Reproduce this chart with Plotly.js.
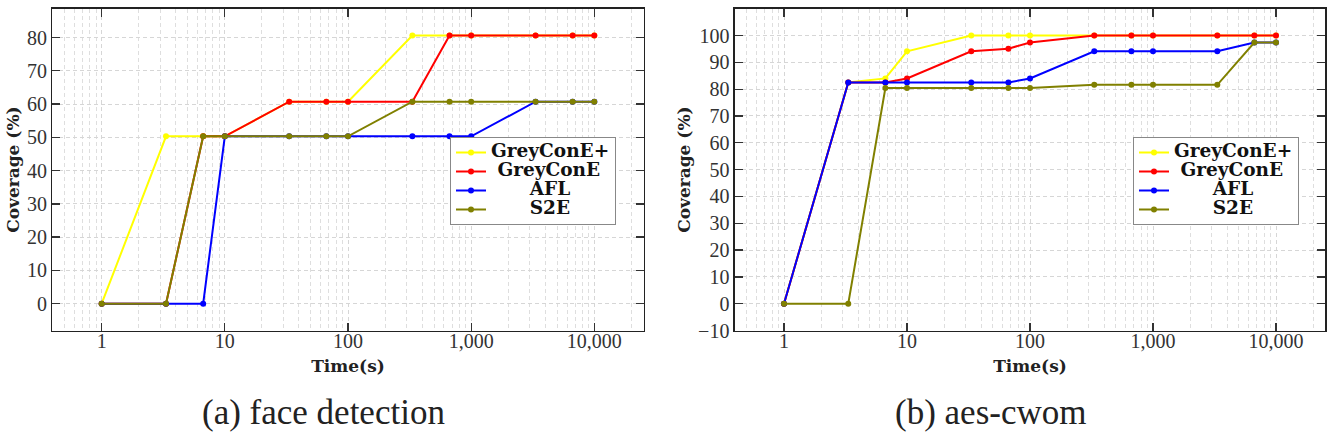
<!DOCTYPE html>
<html><head><meta charset="utf-8">
<script src="https://cdn.plot.ly/plotly-3.0.1.min.js"></script>
<style>html,body{margin:0;padding:0;background:#fff}</style>
</head><body><div id="chart" style="width:1328px;height:434px"></div>
<script>
// ---------------- data ----------------
const times = [1, 3.33, 6.67, 10, 33.3, 66.7, 100, 333, 667, 1000, 3333, 6667, 10000];
const seriesNames = ['GreyConE+', 'GreyConE', 'AFL', 'S2E'];
const seriesColors = ['#ffff00', '#ff0000', '#0000ff', '#808000'];

// (a) face detection
const faceGreyConEPlus = [0, 50.3, 50.3, 50.3, 60.7, 60.7, 60.7, 80.6, 80.6, 80.6, 80.6, 80.6, 80.6];
const faceGreyConE     = [0, 0, 50.3, 50.3, 60.7, 60.7, 60.7, 60.7, 80.6, 80.6, 80.6, 80.6, 80.6];
const faceAFL          = [0, 0, 0, 50.3, 50.3, 50.3, 50.3, 50.3, 50.3, 50.3, 60.7, 60.7, 60.7];
const faceS2E          = [0, 0, 50.3, 50.3, 50.3, 50.3, 50.3, 60.7, 60.7, 60.7, 60.7, 60.7, 60.7];

// (b) aes-cwom
const aesGreyConEPlus = [0, 82.5, 84.0, 94.1, 100, 100, 100, 100, 100, 100, 100, 100, 100];
const aesGreyConE     = [0, 82.5, 82.5, 84.0, 94.1, 95.1, 97.4, 100, 100, 100, 100, 100, 100];
const aesAFL          = [0, 82.5, 82.5, 82.5, 82.5, 82.5, 84.0, 94.1, 94.1, 94.1, 94.1, 97.4, 97.4];
const aesS2E          = [0, 0, 80.4, 80.4, 80.4, 80.4, 80.4, 81.6, 81.6, 81.6, 81.6, 97.4, 97.4];

const xTickVals = [1, 10, 100, 1000, 10000];
const xTickText = ['1', '10', '100', '1,000', '10,000'];
const xTitle = 'Time(s)';
const yTitle = 'Coverage (%)';
const captions = ['(a) face detection', '(b) aes-cwom'];

// ---------------- helpers ----------------
const SERIF = 'Liberation Serif, DejaVu Serif, serif';
const BOLD = 'DejaVu Serif, Liberation Serif, serif';
const LEG_SIZE = 18.5;

const cv = document.createElement('canvas').getContext('2d');
cv.font = 'bold ' + LEG_SIZE + 'px DejaVu Serif';
const widths = seriesNames.map(n => cv.measureText(n).width);
const maxW = Math.max(...widths);
const spW = cv.measureText('\u00A0').width || LEG_SIZE * 0.32;
function legendLabel(i) {
  const pad = Math.round((maxW - widths[i]) / 2 / spW);
  return '<span style="font-size:' + LEG_SIZE + 'px;font-weight:bold">' + '\u00A0'.repeat(pad) + seriesNames[i] + '</span>';
}

// minor grid values for log axis
const minorVals = [];
for (let d = -1; d <= 4; d++) for (let k = 2; k <= 9; k++) minorVals.push(k * Math.pow(10, d));

const panels = [
  {series: [faceGreyConEPlus, faceGreyConE, faceAFL, faceS2E], yr: [-8.06, 88.66]},
  {series: [aesGreyConEPlus, aesGreyConE, aesAFL, aesS2E], yr: [-10, 110]}
];

const traces = [];
panels.forEach((p, pi) => {
  p.series.forEach((ys, si) => {
    traces.push({
      x: times, y: ys, type: 'scatter', mode: 'lines+markers',
      name: legendLabel(si),
      line: {color: seriesColors[si], width: 2},
      marker: {color: seriesColors[si], size: 6},
      xaxis: pi === 0 ? 'x' : 'x2', yaxis: pi === 0 ? 'y' : 'y2',
      legend: pi === 0 ? 'legend' : 'legend2',
      hoverinfo: 'x+y+name'
    });
  });
});

const W = 1328, H = 434;
const xDom = [[52.4 / W, 643.6 / W], [734.8 / W, 1325.2 / W]];
const yDom = [(H - 330.5) / H, (H - 8.7) / H];

function xaxis(i) {
  return {
    type: 'log', range: [-0.4, 4.4], domain: xDom[i], anchor: i === 0 ? 'y' : 'y2',
    tickmode: 'array', tickvals: xTickVals, ticktext: xTickText,
    ticks: 'inside', ticklen: 8, tickwidth: 1.3, tickcolor: '#333',
    ticklabelstandoff: -8,
    showline: true, linecolor: '#222', linewidth: 1.4, mirror: 'ticks',
    showgrid: true, gridcolor: '#d6d6d6', griddash: '4px,3px', gridwidth: 1,
    minor: {tickmode: 'array', tickvals: minorVals, showgrid: true, gridcolor: '#dedede', griddash: '4px,3px', gridwidth: 1, ticks: ''},
    zeroline: false,
    tickfont: {family: SERIF, size: 20, color: '#333'},
    title: {text: '<b>' + xTitle + '</b>', font: {family: BOLD, size: 17, color: '#222'}, standoff: 9}
  };
}
function yaxis(i) {
  return {
    range: panels[i].yr, domain: yDom, anchor: i === 0 ? 'x' : 'x2',
    tickmode: 'linear', tick0: 0, dtick: 10,
    ticks: 'inside', ticklen: 8, tickwidth: 1.3, tickcolor: '#333',
    showline: true, linecolor: '#222', linewidth: 1.4, mirror: 'ticks',
    showgrid: true, gridcolor: '#d6d6d6', griddash: '4px,3px', gridwidth: 1,
    zeroline: false,
    tickfont: {family: SERIF, size: 20, color: '#333'},
    title: {text: '<b>' + yTitle + '</b>', font: {family: BOLD, size: 17, color: '#222'}, standoff: 3}
  };
}

function legendCfg(xpx) {
  return {
    x: xpx / W, y: (H - 137) / H, xanchor: 'left', yanchor: 'top',
    bgcolor: '#ffffff', bordercolor: '#888', borderwidth: 1,
    font: {family: BOLD, size: 12, color: '#111'},
    tracegroupgap: 0, itemclick: false, itemdoubleclick: false
  };
}

const layout = {
  width: W, height: H,
  margin: {l: 0, r: 0, t: 0, b: 0},
  paper_bgcolor: '#ffffff', plot_bgcolor: '#ffffff',
  showlegend: true,
  xaxis: xaxis(0), yaxis: yaxis(0),
  xaxis2: xaxis(1), yaxis2: yaxis(1),
  legend: legendCfg(450),
  legend2: legendCfg(1133),
  annotations: captions.map((c, i) => ({
    text: c, xref: 'paper', yref: 'paper',
    x: (i === 0 ? 323 : 990) / W, y: (H - 412) / H,
    xanchor: 'center', yanchor: 'middle', showarrow: false,
    font: {family: SERIF, size: 35, color: '#222'}
  }))
};

Plotly.newPlot('chart', traces, layout, {displayModeBar: false, staticPlot: true});
</script></body></html>
